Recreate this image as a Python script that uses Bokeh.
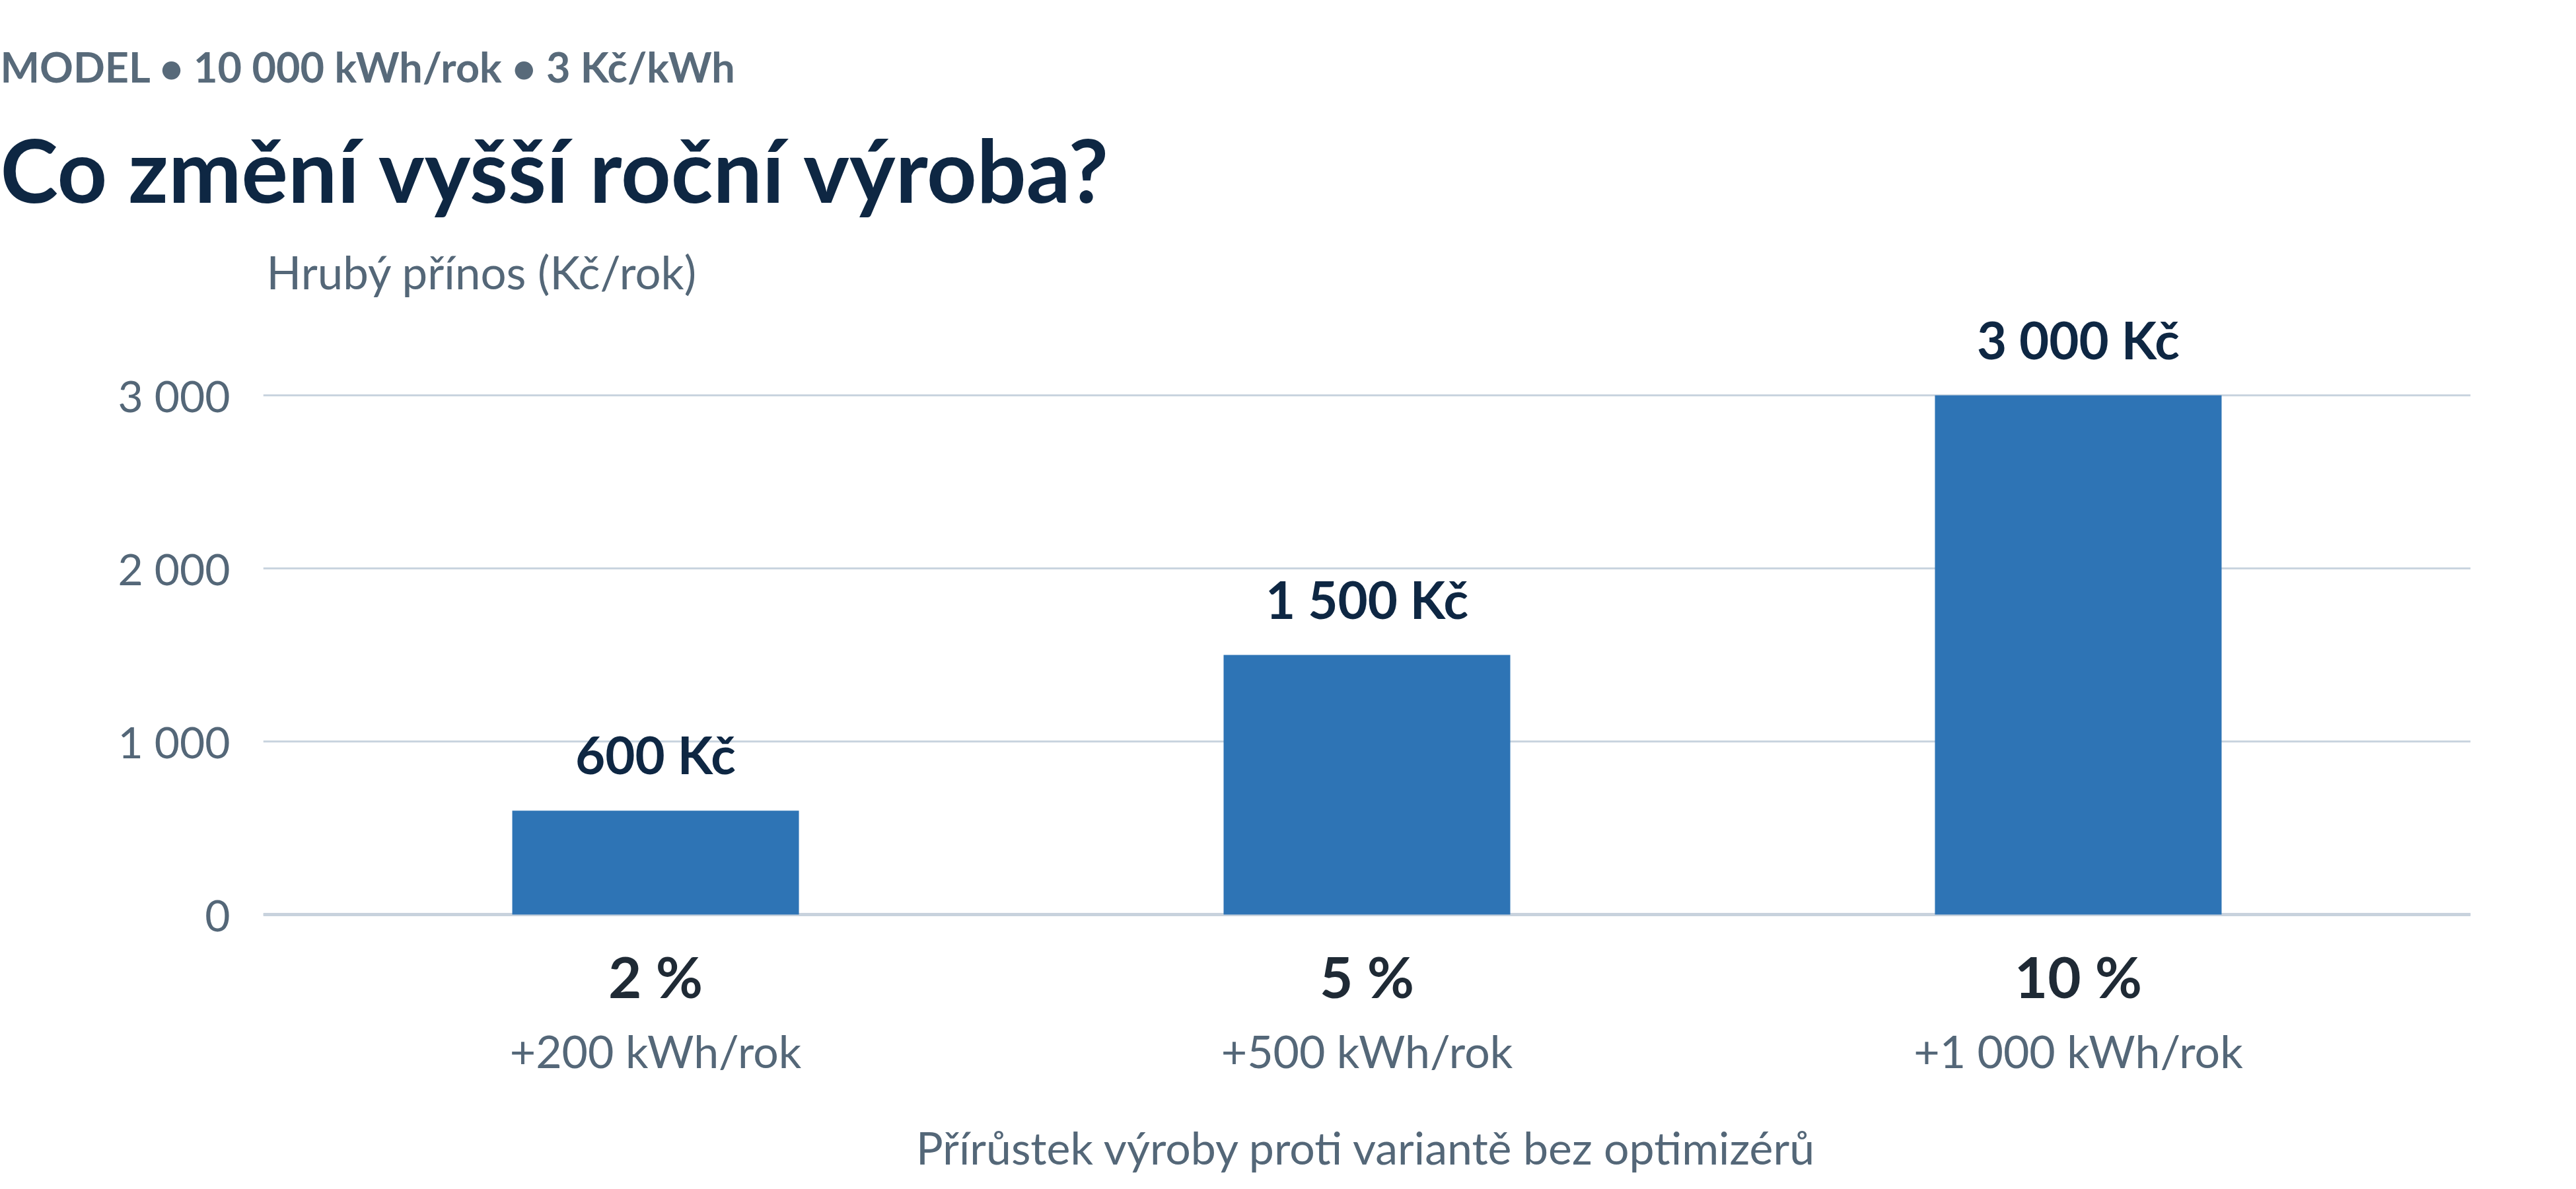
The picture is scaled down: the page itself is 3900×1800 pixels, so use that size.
from bokeh.plotting import figure
from bokeh.models import ColumnDataSource, FactorRange, Range1d, LabelSet, Label, FixedTicker, Span, Title
from bokeh.core.properties import value
from bokeh.embed import file_html
from bokeh.resources import INLINE

# data
pct = [2, 5, 10]
extra_kwh = [200, 500, 1000]
gain_czk = [600, 1500, 3000]
y_ticks = [0, 1000, 2000, 3000]

def sp(n):
    return f"{n:,}".replace(",", " ")

cats = [f"{p} %" for p in pct]
sub_labels = [f"+{sp(k)} kWh/rok" for k in extra_kwh]
val_labels = [f"{sp(v)} Kč" for v in gain_czk]
factors = list(zip(sub_labels, cats))  # group = kWh line, factor = percent line

FONT = "Lato"
NAVY = "#0e2743"
GREY = "#546778"
BLUE = "#2e74b5"
GRID = "#c9d4df"

src = ColumnDataSource(dict(x=factors, gain=gain_czk, lbl=val_labels))

W, H = 3884, 1784
p = figure(width=W, height=H, output_backend="svg", toolbar_location=None,
           x_range=FactorRange(factors=factors, group_padding=0, range_padding=0.0344),
           y_range=Range1d(-19, 3985),
           min_border_left=398, min_border_right=144,
           min_border_top=340, min_border_bottom=395)
p.outline_line_color = None
p.background_fill_color = "white"
p.border_fill_color = "white"

p.vbar(x="x", top="gain", width=0.403, source=src, fill_color=BLUE, line_color=None)

# grid
p.xgrid.visible = False
p.ygrid.ticker = FixedTicker(ticks=y_ticks)
p.ygrid.grid_line_color = GRID
p.ygrid.grid_line_width = 3
p.add_layout(Span(location=0, dimension="width", line_color="#c8d2dd", line_width=5, level="underlay"))

# y axis
p.yaxis.ticker = FixedTicker(ticks=y_ticks)
p.yaxis.major_label_overrides = {t: sp(t) for t in y_ticks}
p.yaxis.axis_line_color = None
p.yaxis.major_tick_line_color = None
p.yaxis.minor_tick_line_color = None
p.yaxis.major_tick_out = 0
p.yaxis.major_label_standoff = 50
p.yaxis.major_label_text_font = FONT
p.yaxis.major_label_text_font_size = "66px"
p.yaxis.major_label_text_color = GREY

# x axis: percent + kWh lines
xa = p.xaxis[0]
xa.axis_line_color = None
xa.major_tick_line_color = None
xa.minor_tick_line_color = None
xa.major_tick_out = 18
xa.separator_line_color = None
xa.major_label_standoff = 17
xa.major_label_text_font = FONT
xa.major_label_text_font_size = "87px"
xa.major_label_text_font_style = "bold"
xa.major_label_text_color = "#1f2a35"
xa.group_text_font = FONT
xa.group_text_font_size = "68px"
xa.group_text_font_style = "normal"
xa.group_text_color = GREY

# gap, then x axis title
p.add_layout(Title(text=" ", standoff=77, text_font=FONT, text_font_size="8px"), "below")
p.add_layout(Title(text="Přírůstek výroby proti variantě bez optimizérů", align="center",
                   vertical_align="top", standoff=-54, text_font=FONT, text_font_size="68px",
                   text_font_style="normal", text_color=GREY), "below")

# value labels above bars
p.add_layout(LabelSet(x="x", y="gain", text="lbl", source=src, y_offset=55,
                      text_align="center", text_baseline="alphabetic",
                      text_font=value(FONT), text_font_size="78px",
                      text_font_style="bold", text_color=NAVY))

# header texts
p.add_layout(Title(text="Co změní vyšší roční výroba?", align="left", offset=-398,
                   standoff=12, text_font=FONT, text_font_size="132px",
                   text_font_style="bold", text_color=NAVY), "above")
p.add_layout(Title(text="MODEL • 10 000 kWh/rok • 3 Kč/kWh", align="left", offset=-398,
                   standoff=61, text_font=FONT, text_font_size="63px",
                   text_font_style="bold", text_color="#586a7a"), "above")
p.add_layout(Label(x=5, y=978, x_units="screen", y_units="screen",
                   text="Hrubý přínos (Kč/rok)", text_font=FONT,
                   text_font_size="69px", text_color=GREY, text_baseline="alphabetic"))

open("out.html", "w").write(file_html(p, INLINE))
